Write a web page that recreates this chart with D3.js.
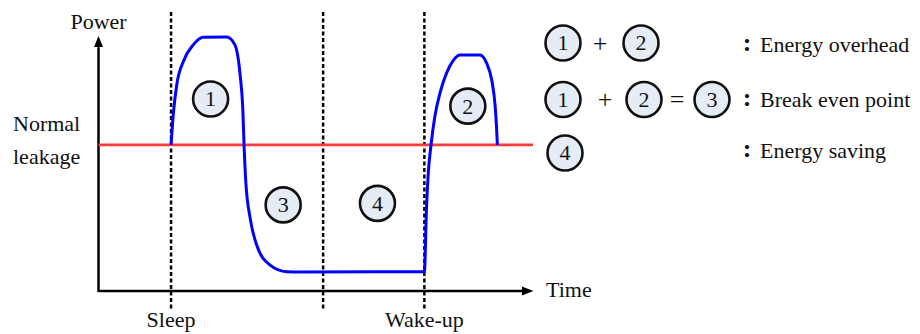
<!DOCTYPE html>
<html>
<head>
<meta charset="utf-8">
<script src="https://cdn.jsdelivr.net/npm/d3@7"></script>
<style>
  text { font-family: "Liberation Serif", "Times New Roman", serif !important; }
</style>
</head>
<body style="margin:0">
<div id="chart"></div>
<script>
// Power vs. time around a sleep / wake-up cycle (power-gating break-even sketch)

// --- Data (time and power in arbitrary units, 0..100) ---
var curveTime  = [16.7, 17.2, 18.0, 19.5, 21.8, 24.1, 29.5, 31.4, 32.6, 33.2, 33.5, 33.9, 34.9, 36.4, 39.5, 43.3, 46.4,
                  75.0, 75.5, 75.9, 76.5, 77.4, 78.6, 80.1, 81.7, 83.2, 87.8, 89.3, 90.5, 91.3, 91.6, 91.8];
var curvePower = [57.5, 69.3, 81.1, 90.3, 96.9, 99.9, 100, 96.9, 85.0, 72.0, 57.5, 43.0, 28.7, 18.1, 10.2, 7.6, 7.5,
                  7.6, 33.2, 46.5, 57.1, 68.6, 78.0, 85.8, 90.9, 92.9, 92.9, 89.8, 83.1, 72.6, 64.7, 57.5];
var leakagePower = 57.5;

var markerTimes  = [16.7, 51.7, 75.0];
var markerLabels = ["Sleep", "", "Wake-up"];

var regionIds   = ["1", "2", "3", "4"];
var regionTime  = [25.8, 85.0, 42.5, 64.2];
var regionPower = [75.6, 72.8, 33.9, 34.5];

// legend rows: tokens are circled ids or operators
var legendRows  = [["1", "+", "2"], ["1", "+", "2", "=", "3"], ["4"]];
var legendTexts = ["Energy overhead", "Break even point", "Energy saving"];

// --- Layout ---
var W = 920, H = 334;
var svg = d3.select("#chart").append("svg")
    .attr("width", W)
    .attr("height", H)
    .attr("font-family", "serif");

var x = d3.scaleLinear().domain([0, 100]).range([98.5, 533]);
var y = d3.scaleLinear().domain([0, 100]).range([291, 37]);

var R = 17.5;
var circleFill = "#e6ecf6";

function label(g, px, py, str, size) {
    return g.append("text")
        .attr("x", px)
        .attr("y", py)
        .attr("font-family", "serif")
        .attr("font-size", size || 22)
        .attr("fill", "#111")
        .text(str);
}

// --- Dotted phase markers ---
svg.selectAll(".marker")
    .data(markerTimes)
    .enter().append("line")
    .attr("class", "marker")
    .attr("x1", function(d) { return x(d); })
    .attr("x2", function(d) { return x(d); })
    .attr("y1", 12)
    .attr("y2", 311)
    .style("stroke", "#000")
    .style("stroke-width", 2.5)
    .style("stroke-dasharray", "4,2.5");

markerTimes.forEach(function(t, i) {
    if (markerLabels[i]) label(svg, x(t), 327, markerLabels[i]).attr("text-anchor", "middle");
});

// --- Axes (arrows, no ticks) ---
var ax = svg.append("g");
ax.append("line")
    .attr("x1", x(0)).attr("x2", x(0))
    .attr("y1", y(0) + 1).attr("y2", y(96))
    .style("stroke", "#000").style("stroke-width", 2.5);
ax.append("path")
    .attr("d", "M" + x(0) + "," + (y(100) - 1) + " l-4.5,11 l9,0 Z")
    .style("fill", "#000");
ax.append("line")
    .attr("x1", x(0)).attr("x2", x(97.5))
    .attr("y1", y(0)).attr("y2", y(0))
    .style("stroke", "#000").style("stroke-width", 2.5);
ax.append("path")
    .attr("d", "M" + (x(100) + 0.5) + "," + y(0) + " l-11.5,-4.5 l0,9 Z")
    .style("fill", "#000");

label(svg, x(0), 29, "Power").attr("text-anchor", "middle");
label(svg, x(100) + 13, 297, "Time");
label(svg, 13, 131, "Normal");
label(svg, 13, 164, "leakage");

// --- Normal leakage level ---
svg.append("line")
    .attr("x1", x(0)).attr("x2", x(100))
    .attr("y1", y(leakagePower)).attr("y2", y(leakagePower))
    .style("stroke", "#ff3b3b")
    .style("stroke-width", 2.8);

// --- Power curve ---
var pts = curveTime.map(function(t, i) { return [t, curvePower[i]]; });
var line = d3.line()
    .curve(d3.curveMonotoneX)
    .x(function(d) { return x(d[0]); })
    .y(function(d) { return y(d[1]); });

svg.append("path")
    .datum(pts)
    .attr("d", line)
    .style("fill", "none")
    .style("stroke", "#0000ff")
    .style("stroke-width", 3)
    .style("stroke-linejoin", "round");

// --- Numbered region badges ---
function badge(g, cx, cy, id) {
    g.append("circle")
        .attr("cx", cx).attr("cy", cy).attr("r", R)
        .style("fill", circleFill)
        .style("stroke", "#111")
        .style("stroke-width", 2.6);
    label(g, cx, cy, id)
        .attr("dy", "0.34em")
        .attr("text-anchor", "middle");
}

var regions = svg.append("g");
regionIds.forEach(function(id, i) {
    badge(regions, x(regionTime[i]), y(regionPower[i]), id);
});

// --- Legend ---
var legend = svg.append("g");
var rowY = [43, 99.5, 153];
var rowTextY = [52, 107, 158];
var tokenX = {
    0: [563, 600, 641],
    1: [563, 605, 644, 677, 712],
    2: [565]
};
legendRows.forEach(function(row, r) {
    row.forEach(function(tok, k) {
        var cx = tokenX[r][k];
        if (tok === "+" || tok === "=") {
            label(legend, cx, rowY[r], tok, 26)
                .attr("dy", "0.34em")
                .attr("text-anchor", "middle");
        } else {
            badge(legend, cx, rowY[r], tok);
        }
    });
    label(legend, 747, rowTextY[r] - 1, ":", 26)
        .attr("text-anchor", "middle")
        .attr("font-weight", "bold");
    label(legend, 760, rowTextY[r], legendTexts[r]);
});
</script>
</body>
</html>
